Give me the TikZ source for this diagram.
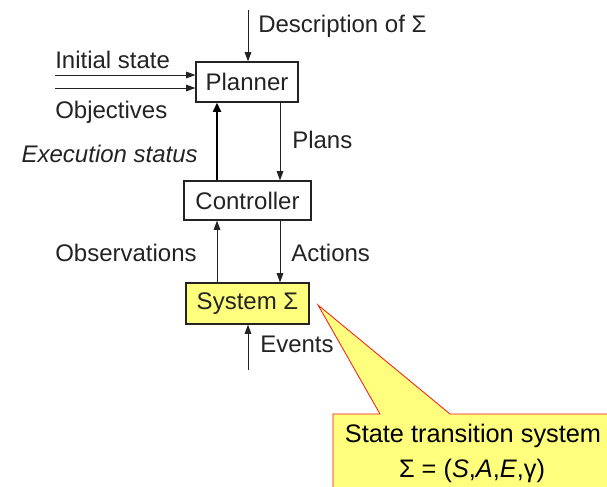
\documentclass[tikz,border=0pt]{standalone}
\usepackage{fontspec}
\setmainfont{Liberation Sans}
\usetikzlibrary{arrows.meta}
\definecolor{ink}{RGB}{35,35,35}
\definecolor{paleyellow}{RGB}{255,255,125}
\definecolor{calloutred}{RGB}{240,20,20}
\begin{document}
\begin{tikzpicture}[x=0.75pt,y=-0.75pt,
  font=\fontsize{18pt}{21pt}\selectfont,
  block/.style={draw=ink,line width=0.9pt,inner sep=0pt,text=ink},
  flow/.style={draw=ink,line width=0.75pt,-{Triangle[length=7pt,width=5pt]}},
  heavyflow/.style={draw=black,line width=2.2pt,-{Triangle[length=7pt,width=6pt]}},
  label/.style={text=ink,inner sep=0pt},
  calltext/.style={anchor=base,inner sep=0pt,font=\fontsize{19pt}{22pt}\selectfont}]
\useasboundingbox (0,0) rectangle (607,486);
\clip (0,0) rectangle (607,486);

% boxes
\node[block,minimum width=76.5pt,minimum height=30pt] (planner) at (247,82) {Planner};
\node[block,minimum width=95.25pt,minimum height=29.25pt] (controller) at (247.5,200.5) {Controller};
\node[block,fill=paleyellow,minimum width=92.25pt,minimum height=30.75pt] (system) at (247.5,303.5) {System Σ};

% free ends of the inputs
\coordinate (desc) at (248,10);
\coordinate (init) at (55,75);
\coordinate (obj) at (55,88);
\coordinate (events) at (248,370);
\coordinate (left) at (217,0);
\coordinate (right) at (280,0);

% connectors
\draw[flow] (desc) -- (desc |- planner.north);
\draw[flow] (init) -- (init -| planner.west);
\draw[flow] (obj) -- (obj -| planner.west);
\draw[heavyflow] (left |- controller.north) -- (left |- planner.south);
\draw[flow] (right |- planner.south) -- (right |- controller.north);
\draw[flow] (left |- system.north) -- (left |- controller.south);
\draw[flow] (right |- controller.south) -- (right |- system.north);
\draw[flow] (events) -- (events |- system.south);

% labels
\node[label,anchor=base west] (ldesc) at (258,32) {Description of Σ};
\node[label,anchor=base west] (linit) at (55,68) {Initial state};
\node[label,anchor=base west] (lobj) at (55,118) {Objectives};
\node[label,anchor=base east] (lexec) at (198,162) {\itshape Execution status};
\node[label,anchor=base west] (lplans) at (292,148) {Plans};
\node[label,anchor=base west] (lobs) at (55,261) {Observations};
\node[label,anchor=base west] (lact) at (291,261) {Actions};
\node[label,anchor=base west] (levents) at (260,352) {Events};

% callout
\coordinate (tip) at (318,305);
\draw[calloutred,fill=paleyellow,line width=0.6pt]
  (620,500) -- (333,500) -- (333,414) -- (380,414) -- (tip) -- (450,414) -- (620,414);
\node[calltext] (cline1) at (473,442) {State transition system};
\node[calltext] (cline2) at (472,477) {Σ = (\textit{S},\textit{A},\textit{E},γ)};
\end{tikzpicture}
\end{document}
